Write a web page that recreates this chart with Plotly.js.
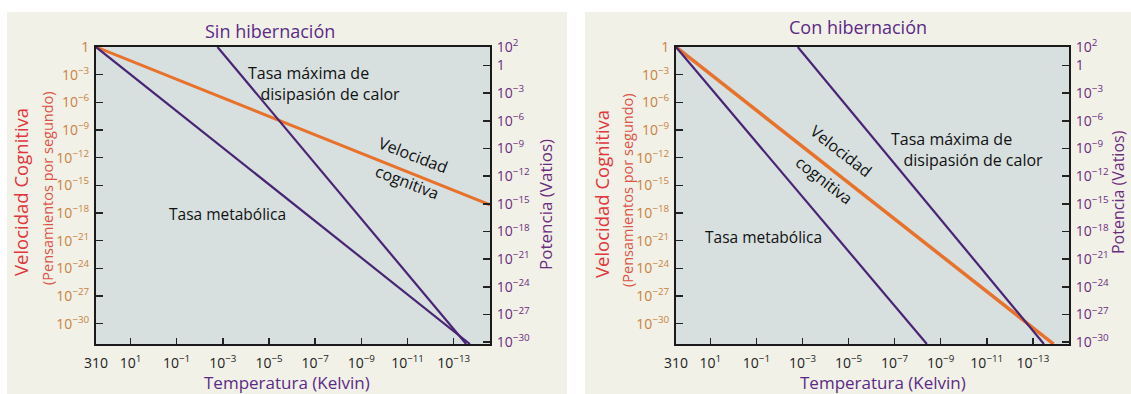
<!DOCTYPE html>
<html>
<head>
<meta charset="utf-8">
<script src="https://cdn.plot.ly/plotly-3.0.1.min.js"></script>
<style>html,body{margin:0;padding:0;background:#fff;}#chart{width:1131px;height:394px;}</style>
</head>
<body>
<div id="chart"></div>
<script>
// ---------- data ----------
const tempTicks = [310, 10, 1e-1, 1e-3, 1e-5, 1e-7, 1e-9, 1e-11, 1e-13];
const tempTickText = ['310', '10<sup>1</sup>', '10<sup>−1</sup>', '10<sup>−3</sup>', '10<sup>−5</sup>',
  '10<sup>−7</sup>', '10<sup>−9</sup>', '10<sup>−11</sup>', '10<sup>−13</sup>'];
const speedTicks = [1, 1e-3, 1e-6, 1e-9, 1e-12, 1e-15, 1e-18, 1e-21, 1e-24, 1e-27, 1e-30];
const speedTickText = ['1', '10<sup>−3</sup>', '10<sup>−6</sup>', '10<sup>−9</sup>', '10<sup>−12</sup>',
  '10<sup>−15</sup>', '10<sup>−18</sup>', '10<sup>−21</sup>', '10<sup>−24</sup>', '10<sup>−27</sup>', '10<sup>−30</sup>'];
const powerTicks = [1e2, 1, 1e-3, 1e-6, 1e-9, 1e-12, 1e-15, 1e-18, 1e-21, 1e-24, 1e-27, 1e-30];
const powerTickText = ['10<sup>2</sup>', '1', '10<sup>−3</sup>', '10<sup>−6</sup>', '10<sup>−9</sup>', '10<sup>−12</sup>',
  '10<sup>−15</sup>', '10<sup>−18</sup>', '10<sup>−21</sup>', '10<sup>−24</sup>', '10<sup>−27</sup>', '10<sup>−30</sup>'];

// Sin hibernación
const velSinT = [310, 2.7e-15];
const velSinV = [1, 7.9e-18];
const metSinT = [310, 2.0e-14];
const metSinP = [100, 6.3e-31];
const disSinT = [1.7e-3, 2.9e-14];
const disSinP = [100, 6.3e-31];

// Con hibernación
const velConT = [310, 1.26e-14];
const velConV = [1, 6.3e-33];
const metConT = [310, 4.0e-9];
const metConP = [100, 6.3e-31];
const disConT = [1.6e-3, 3.3e-14];
const disConP = [100, 6.3e-31];

// ---------- layout helpers ----------
const W = 1131, H = 394;
const fx = p => p / W;
const fy = p => 1 - p / H;
const FONT = '"Open Sans", "Noto Sans", sans-serif';
const ORANGE = '#e8712b';
const PURPLE = '#4a2474';
const TXT_PURPLE = '#5b2a86';
const TICK_ORANGE = '#c9823f';
const TICK_PURPLE = '#6c2c7e';
const RED = '#e2363a';

const plotTop = 47, plotBot = 344;
const L = {x0: 96, x1: 490};
const R = {x0: 676, x1: 1069};

function xAx(p, anchor) {
  return {
    domain: [fx(p.x0), fx(p.x1)], anchor: anchor, type: 'log',
    range: [Math.log10(310), -14.57], tickmode: 'array', tickvals: tempTicks, ticktext: tempTickText,
    ticks: 'inside', ticklen: 6, tickwidth: 1.5, tickcolor: '#222',
    showline: true, linewidth: 2, linecolor: '#1a1a1a', mirror: true,
    showgrid: false, zeroline: false, ticklabelstandoff: 5,
    tickfont: {family: FONT, size: 14, color: '#222'}
  };
}
function ySpeed(anchor) {
  return {
    domain: [fy(plotBot), fy(plotTop)], anchor: anchor, type: 'log', side: 'left',
    range: [-32.2, 0], tickmode: 'array', tickvals: speedTicks, ticktext: speedTickText,
    ticks: 'inside', ticklen: 7, tickwidth: 1.5, tickcolor: '#222',
    showline: true, linewidth: 2, linecolor: '#1a1a1a',
    showgrid: false, zeroline: false, ticklabelstandoff: 2,
    tickfont: {family: FONT, size: 14, color: TICK_ORANGE}
  };
}
function yPower(anchor, over) {
  return {
    domain: [fy(plotBot), fy(plotTop)], anchor: anchor, overlaying: over, type: 'log', side: 'right',
    range: [-30.2, 2], tickmode: 'array', tickvals: powerTicks, ticktext: powerTickText,
    ticks: 'inside', ticklen: 7, tickwidth: 1.5, tickcolor: '#222',
    showline: true, linewidth: 2, linecolor: '#1a1a1a',
    showgrid: false, zeroline: false, ticklabelstandoff: 2,
    tickfont: {family: FONT, size: 14, color: TICK_PURPLE}
  };
}

function line(x, y, xa, ya, color, width) {
  return {x: x, y: y, xaxis: xa, yaxis: ya, type: 'scatter', mode: 'lines',
    line: {color: color, width: width}, hoverinfo: 'skip', showlegend: false, cliponaxis: true};
}

const data = [
  line(metSinT, metSinP, 'x', 'y2', PURPLE, 2.2),
  line(disSinT, disSinP, 'x', 'y2', PURPLE, 2.2),
  line(velSinT, velSinV, 'x', 'y', ORANGE, 3),
  line(metConT, metConP, 'x2', 'y4', PURPLE, 2.2),
  line(disConT, disConP, 'x2', 'y4', PURPLE, 2.2),
  line(velConT, velConV, 'x2', 'y3', ORANGE, 3.5)
];

function ann(text, px, py, size, color, angle, extra) {
  return Object.assign({text: text, xref: 'paper', yref: 'paper', x: fx(px), y: fy(py),
    xanchor: 'center', yanchor: 'middle', showarrow: false, textangle: angle || 0,
    font: {family: FONT, size: size, color: color}}, extra || {});
}

const heatLabel = 'Tasa máxima de<br>&nbsp;&nbsp;&nbsp;disipasión de calor';

const annotations = [
  // titles
  ann('Sin hibernación', 270, 31, 18, TXT_PURPLE),
  ann('Con hibernación', 858, 27, 18, TXT_PURPLE),
  // x titles
  ann('Temperatura (Kelvin)', 287, 382, 17, TXT_PURPLE),
  ann('Temperatura (Kelvin)', 883, 382, 17, TXT_PURPLE),
  // left titles
  ann('Velocidad Cognitiva', 20, 192, 18.5, RED, -90),
  ann('(Pensamientos por segundo)', 47, 188, 14.5, '#e05244', -90),
  ann('Velocidad Cognitiva', 601, 194, 18.5, RED, -90),
  ann('(Pensamientos por segundo)', 627, 190, 14.5, '#e05244', -90),
  // right titles
  ann('Potencia (Vatios)', 546, 205, 17, TICK_PURPLE, -90),
  ann('Potencia (Vatios)', 1118, 192, 16, TICK_PURPLE, -90),
  // left panel labels
  ann(heatLabel, 246, 84, 16, '#111', 0, {xanchor: 'left', align: 'left'}),
  ann('Velocidad', 413, 155, 16, '#111', 21),
  ann('cognitiva', 407, 182, 16, '#111', 21),
  ann('Tasa metabólica', 227, 214, 15.5, '#111'),
  // right panel labels
  ann(heatLabel, 889, 149, 16, '#111', 0, {xanchor: 'left', align: 'left'}),
  ann('Velocidad', 841, 151, 16, '#111', 38),
  ann('cognitiva', 824, 180, 16, '#111', 38),
  ann('Tasa metabólica', 763, 237, 15.5, '#111')
];

function rect(x0, y0, x1, y1, fill) {
  return {type: 'rect', xref: 'paper', yref: 'paper', x0: fx(x0), x1: fx(x1), y0: fy(y1), y1: fy(y0),
    fillcolor: fill, line: {width: 0}, layer: 'below'};
}
const shapes = [
  rect(7, 12, 567, 394, '#f1f1e8'),
  rect(585, 12, 1131, 394, '#f1f1e8'),
  rect(L.x0, plotTop, L.x1, plotBot, '#d7e0df'),
  rect(R.x0, plotTop, R.x1, plotBot, '#d7e0df')
];

const layout = {
  width: W, height: H, margin: {l: 0, r: 0, t: 0, b: 0},
  paper_bgcolor: '#ffffff', plot_bgcolor: 'rgba(0,0,0,0)',
  showlegend: false,
  xaxis: xAx(L, 'y'),
  yaxis: ySpeed('x'),
  yaxis2: yPower('x', 'y'),
  xaxis2: xAx(R, 'y3'),
  yaxis3: ySpeed('x2'),
  yaxis4: yPower('x2', 'y3'),
  shapes: shapes,
  annotations: annotations,
  font: {family: FONT}
};

Plotly.newPlot('chart', data, layout, {staticPlot: true, displayModeBar: false});
</script>
</body>
</html>
